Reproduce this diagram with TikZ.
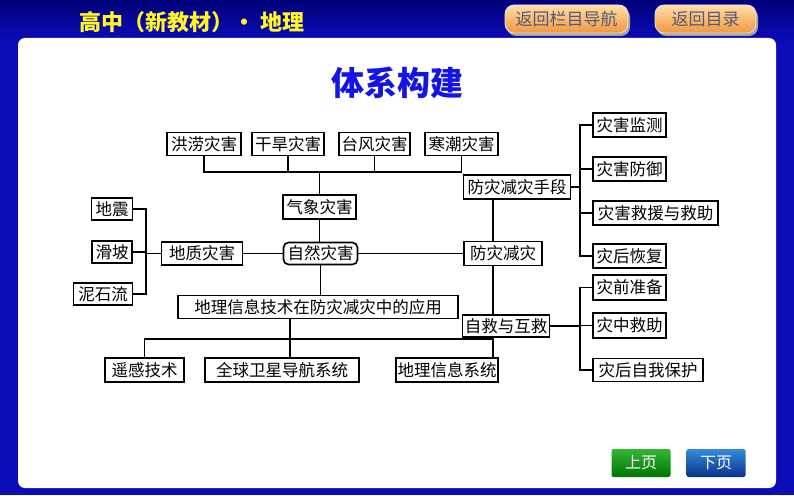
\documentclass[tikz,border=0pt]{standalone}
\usepackage{fontspec}
\newfontfamily\cjk{Noto Sans CJK SC}
\definecolor{bgblue}{RGB}{12,12,185}
\definecolor{navy}{RGB}{0,0,120}
\definecolor{titleblue}{RGB}{20,20,230}
\definecolor{hdryellow}{RGB}{255,245,40}
\definecolor{btntop}{RGB}{255,222,170}
\definecolor{btnbot}{RGB}{242,150,60}
\definecolor{btntext}{RGB}{80,90,120}
\tikzset{
  box/.style={draw, line width=1.6pt, fill=white, inner sep=0pt,
    minimum height=23pt, font=\cjk\fontsize{16.5}{16.5}\selectfont},
  conn/.style={line width=1.4pt},
  navbtn/.style={rounded corners=9pt, draw=white!80!gray, line width=0.8pt,
    top color=btntop, bottom color=btnbot, minimum height=28pt, inner sep=0pt,
    text=btntext, font=\cjk\fontsize{17}{17}\selectfont},
  pagebtn/.style={rounded corners=2pt, minimum height=28pt, inner sep=0pt,
    text=white, font=\cjk\fontsize{16}{16}\selectfont},
}
\begin{document}
\begin{tikzpicture}[x=1pt,y=-1pt]
\useasboundingbox (0,0) rectangle (794,495);
% background
\fill[bgblue] (0,0) rectangle (794,495);
\shade[top color=navy, bottom color=bgblue] (0,0) rectangle (794,40);
\fill[white, rounded corners=7pt] (18,38) rectangle (776,488);
% header
\node[text=hdryellow, font=\cjk\bfseries\fontsize{22}{22}\selectfont, anchor=west] (hdr) at (76,22) {高中（新教材）· 地理};
\fill[black!35, rounded corners=9pt] (507,8) rectangle (630,36);
\fill[black!35, rounded corners=9pt] (657,8) rectangle (758,36);
\node[navbtn, minimum width=123pt] (nav1) at (566.5,19) {返回栏目导航};
\node[navbtn, minimum width=101pt] (nav2) at (705.5,19) {返回目录};
% title
\node[text=titleblue, font=\cjk\bfseries\fontsize{33}{33}\selectfont] (title) at (397,83) {体系构建};
% top row
\node[box, minimum width=74pt] (hl) at (204,144) {洪涝灾害};
\node[box, minimum width=72pt] (hh) at (288,144) {干旱灾害};
\node[box, minimum width=71pt] (tf) at (374.5,144) {台风灾害};
\node[box, minimum width=73pt] (hc) at (461.5,144) {寒潮灾害};
\node[box, minimum width=73pt, minimum height=24pt] (qx) at (319.5,207) {气象灾害};
% middle row
\node[box, minimum width=74pt, minimum height=22pt, rounded corners=5pt] (zr) at (320.5,253.5) {自然灾害};
\node[box, minimum width=81pt] (dz) at (202,253.5) {地质灾害};
\node[box, minimum width=41pt, minimum height=22pt] (dzh) at (112,209) {地震};
\node[box, minimum width=40pt, minimum height=22pt] (hp) at (112,252) {滑坡};
\node[box, minimum width=59pt, minimum height=22pt] (nsl) at (103,294) {泥石流};
\node[box, minimum width=78pt, minimum height=24pt] (fj) at (503,253.5) {防灾减灾};
\node[box, minimum width=107pt, minimum height=24pt] (sd) at (517,187) {防灾减灾手段};
\node[box, minimum width=87pt, minimum height=22pt] (zj) at (506,326) {自救与互救};
% right column
\node[box, minimum width=73pt, minimum height=24pt] (jc) at (629.5,125) {灾害监测};
\node[box, minimum width=73pt, minimum height=24pt] (fy) at (629.5,169) {灾害防御};
\node[box, minimum width=125pt, minimum height=24pt] (jy) at (655.5,213) {灾害救援与救助};
\node[box, minimum width=73pt, minimum height=24pt] (hf) at (629.5,256) {灾后恢复};
\node[box, minimum width=73pt, minimum height=25pt] (zq) at (629.5,287.5) {灾前准备};
\node[box, minimum width=73pt, minimum height=25pt] (zz) at (629.5,325.5) {灾中救助};
\node[box, minimum width=110pt, minimum height=23pt] (zh) at (648,370) {灾后自我保护};
% bottom
\node[box, minimum width=280pt] (app) at (318,307) {地理信息技术在防灾减灾中的应用};
\node[box, minimum width=79pt, minimum height=24pt] (rs) at (144.5,370) {遥感技术};
\node[box, minimum width=154pt, minimum height=24pt] (gn) at (282,370) {全球卫星导航系统};
\node[box, minimum width=102pt, minimum height=24pt] (gis) at (447,370) {地理信息系统};
% page buttons
\node[pagebtn, minimum width=59pt, top color=green!65!black!80!white, bottom color=green!45!black] (prev) at (641,463) {上页};
\node[pagebtn, minimum width=59pt, top color={rgb,255:red,50;green,140;blue,220}, bottom color={rgb,255:red,10;green,50;blue,140}] (next) at (716,463) {下页};
% connectors
\coordinate (b1) at (319.5,172);
\coordinate (b2) at (146,253.5);
\coordinate (vx) at (493,250);
\coordinate (r1) at (580,187);
\coordinate (r2) at (580,326);
\coordinate (b4) at (290,339);
\coordinate (g4) at (493,339);
\draw[conn] (hl.south) |- (hc.south |- b1) -- (hc.south);
\draw[conn] (hh.south) -- (hh.south |- b1);
\draw[conn] (tf.south) -- (tf.south |- b1);
\draw[conn] (qx.north) -- (b1);
\draw[conn] (qx.south) -- (zr.north -| qx.south);
\draw[conn] (zr.south) -- (app.north -| zr.south);
\draw[conn] (dz.east) -- (zr.west);
\draw[conn] (zr.east) -- (fj.west);
\draw[conn] (dz.west) -- (b2);
\draw[conn] (dzh.east) -| (b2) |- (nsl.east);
\draw[conn] (hp.east) -- (hp.east -| b2);
\draw[conn] (sd.south -| vx) -- (fj.north -| vx);
\draw[conn] (fj.south -| vx) -- (zj.north -| vx);
\draw[conn] (sd.east) -- (r1);
\draw[conn] (jc.west) -| (r1) |- (hf.west);
\draw[conn] (fy.west) -- (fy.west -| r1);
\draw[conn] (jy.west) -- (jy.west -| r1);
\draw[conn] (zj.east) -- (r2);
\draw[conn] (zq.west) -| (r2) |- (zh.west);
\draw[conn] (zz.west) -- (zz.west -| r2);
\draw[conn] (app.south -| b4) -- (gn.north -| b4);
\draw[conn] (rs.north) |- (g4) -- (gis.north -| g4);
\end{tikzpicture}
\end{document}
